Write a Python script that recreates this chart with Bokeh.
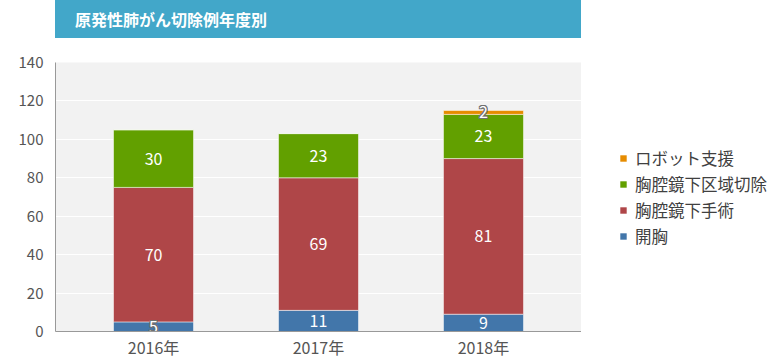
from bokeh.plotting import figure
from bokeh.models import Div, FactorRange, Range1d, Legend, LegendItem, ColumnDataSource
from bokeh.layouts import column, row
from bokeh.core.properties import value
from bokeh.embed import file_html
from bokeh.resources import INLINE
import numpy as np

title_text = "原発性肺がん切除例年度別"
years = ["2016年", "2017年", "2018年"]
series_names = ["開胸", "胸腔鏡下手術", "胸腔鏡下区域切除", "ロボット支援"]
kaikyo = [5, 11, 9]
kyokukyo_shujutsu = [70, 69, 81]
kyokukyo_kuiki = [30, 23, 23]
robot = [0, 0, 2]
colors = ["#4276aa", "#af4648", "#62a000", "#e68c00"]
y_ticks = [0, 20, 40, 60, 80, 100, 120, 140]

FONT = "Noto Sans CJK JP"
series_values = [kaikyo, kyokukyo_shujutsu, kyokukyo_kuiki, robot]

data = {"years": years}
for name, vals in zip(series_names, series_values):
    data[name] = vals
source = ColumnDataSource(data)

header = Div(
    text=title_text,
    width=526, height=38,
    margin=(0, 0, 0, 55),
    styles={
        "background-color": "#42a7c9",
        "color": "white",
        "font-weight": "bold",
        "font-size": "16px",
        "font-family": FONT,
        "line-height": "38px",
        "padding-left": "20px",
        "box-sizing": "border-box",
    },
)

p = figure(
    x_range=FactorRange(*years, range_padding=0.0627),
    y_range=Range1d(0, 140),
    width=581, height=323,
    output_backend="svg", toolbar_location=None,
    min_border_left=55, min_border_right=0,
    min_border_top=24, min_border_bottom=30,
)
p.background_fill_color = "#f2f2f2"
p.outline_line_color = None
p.xgrid.grid_line_color = None
p.ygrid.grid_line_color = "#ffffff"
p.ygrid.grid_line_width = 1
p.yaxis.ticker = y_ticks

for ax in (p.xaxis, p.yaxis):
    ax.axis_line_color = "#999999"
    ax.axis_line_width = 1
    ax.major_tick_line_color = None
    ax.minor_tick_line_color = None
    ax.major_tick_out = 0
    ax.major_tick_in = 0
    ax.minor_tick_out = 0
    ax.minor_tick_in = 0
    ax.major_label_text_font = FONT
    ax.major_label_text_color = "#555555"
p.yaxis.major_label_text_font_size = "15px"
p.yaxis.major_label_standoff = 12
p.xaxis.major_label_text_font_size = "16px"
p.xaxis.major_label_standoff = 3

renderers = p.vbar_stack(series_names, x="years", width=0.485, color=colors,
                         line_color="#ffffff", line_alpha=0.5, line_width=1,
                         source=source)

# data labels
xs, ys, txt, small = [], [], [], []
bottom = np.zeros(len(years))
for vals in series_values:
    v = np.array(vals, dtype=float)
    for i, yr in enumerate(years):
        if v[i] > 0:
            xs.append(yr)
            ys.append(bottom[i] + v[i] / 2)
            txt.append(str(vals[i]))
            small.append(v[i] < 6)
    bottom += v

big_src = ColumnDataSource(dict(x=[x for x, s in zip(xs, small) if not s],
                                y=[y for y, s in zip(ys, small) if not s],
                                t=[t for t, s in zip(txt, small) if not s]))
small_src = ColumnDataSource(dict(x=[x for x, s in zip(xs, small) if s],
                                  y=[y for y, s in zip(ys, small) if s],
                                  t=[t for t, s in zip(txt, small) if s]))

lbl_kw = dict(x="x", y="y", text="t", text_align="center", text_baseline="middle",
              text_font=value(FONT), text_font_size="16px")
for dx, dy in [(-1, 0), (1, 0), (0, -1), (0, 1), (-1, -1), (1, 1), (-1, 1), (1, -1)]:
    p.text(source=small_src, x_offset=dx, y_offset=dy, text_color="#707070", **lbl_kw)
p.text(source=small_src, text_color="#ffffff", **lbl_kw)
p.text(source=big_src, text_color="#ffffff", **lbl_kw)

# legend lives in its own panel to the right; its copy of the bars has zero
# width and lies outside that panel's y range, so only the legend shows
lf = figure(
    x_range=FactorRange(*years), y_range=Range1d(-300, -160),
    width=200, height=323,
    output_backend="svg", toolbar_location=None,
    x_axis_location=None, y_axis_location=None,
    min_border_left=0, min_border_right=0, min_border_top=24, min_border_bottom=30,
)
lf.outline_line_color = None
lf.xgrid.grid_line_color = None
lf.ygrid.grid_line_color = None
lf_renderers = lf.vbar_stack(series_names, x="years", width=0, color=colors,
                             line_color=None, source=source)

items = [LegendItem(label=name, renderers=[r]) for name, r in zip(series_names, lf_renderers)][::-1]
legend = Legend(items=items, location=(38, 83))
legend.glyph_width = 8
legend.glyph_height = 8
legend.label_height = 20
legend.label_standoff = 8
legend.spacing = 2
legend.label_text_font = FONT
legend.label_text_font_size = "16.5px"
legend.label_text_color = "#404040"
legend.border_line_color = None
legend.background_fill_alpha = 0
legend.margin = 0
legend.padding = 0
lf.add_layout(legend)

layout = column(header, row(p, lf, spacing=0), spacing=0)
open("out.html", "w").write(file_html(layout, INLINE))
